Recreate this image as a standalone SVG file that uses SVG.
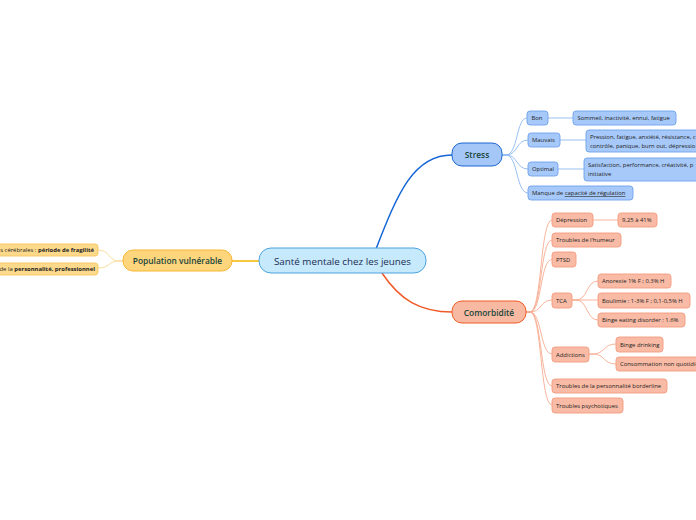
<svg xmlns="http://www.w3.org/2000/svg" width="696" height="520" viewBox="0 0 696 520">
<style>
text{font-family:"Open Sans","Noto Sans","Liberation Sans",sans-serif}
.leaf{font-size:5.9px;fill:#222}
.sb{fill:#a7c9f9;stroke:#6fa2ea;stroke-width:0.9}
.cb{fill:#f9bba5;stroke:#f39c80;stroke-width:0.9}
.yb{fill:#fdd98b;stroke:#f7c45c;stroke-width:0.9}
.sc{fill:none;stroke:#8cb8f2;stroke-width:0.9}
.cc{fill:none;stroke:#f7ab91;stroke-width:0.9}
.yc{fill:none;stroke:#fbd98e;stroke-width:0.9}
.main{font-size:8.4px;fill:#17453a;text-anchor:middle;font-weight:600}
</style>
<rect width="696" height="520" fill="#ffffff"/>
<g id="connectors">
<path d="M376,249 C398,192 414,155 452,155" fill="none" stroke="#1565d6" stroke-width="1.5"/>
<path d="M382,273 C400,300 420,312 452,312" fill="none" stroke="#f05a28" stroke-width="1.5"/>
<path d="M259,261 L232,261" fill="none" stroke="#f5b400" stroke-width="1.5"/>
<path class="yc" d="M123,261 L119,261 C108,261 110,250 98,250"/>
<path class="yc" d="M123,261 L119,261 C108,261 110,268 98,268"/>
<path class="sc" d="M502,155 L506,155 C518,155 516,118 527,118"/>
<path class="sc" d="M502,155 L506,155 C518,155 516,140 528,140"/>
<path class="sc" d="M502,155 L506,155 C518,155 516,169 528,169"/>
<path class="sc" d="M502,155 L506,155 C518,155 516,193 528,193"/>
<path class="sc" d="M548,118 L573,118"/>
<path class="sc" d="M560,140 L586,140"/>
<path class="sc" d="M558,169 L584,169"/>
<path class="cc" d="M526,312 L530,312 C542,312 540,220 552,220"/>
<path class="cc" d="M526,312 L530,312 C542,312 540,240 552,240"/>
<path class="cc" d="M526,312 L530,312 C542,312 540,259.5 552,259.5"/>
<path class="cc" d="M526,312 L530,312 C542,312 540,300 552,300"/>
<path class="cc" d="M526,312 L530,312 C542,312 540,354 552,354"/>
<path class="cc" d="M526,312 L530,312 C542,312 540,386 552,386"/>
<path class="cc" d="M526,312 L530,312 C542,312 540,405 552,405"/>
<path class="cc" d="M593,220 L618,220"/>
<path class="cc" d="M572,300 L576,300 C588,300 586,281 598,281"/>
<path class="cc" d="M572,300 L598,300"/>
<path class="cc" d="M572,300 L576,300 C588,300 586,320 598,320"/>
<path class="cc" d="M589,354 L593,354 C605,354 603,344 616,344"/>
<path class="cc" d="M589,354 L593,354 C605,354 603,364 616,364"/>
</g>
<g id="central">
<rect x="259" y="248" width="167" height="25" rx="12" fill="#c6e9fb" stroke="#4aa3df" stroke-width="1"/>
<text x="342.5" y="264.5" font-size="9.8" fill="#1a2b55" text-anchor="middle">Santé mentale chez les jeunes</text>
</g>
<g id="stress">
<rect x="452" y="143" width="50" height="23" rx="10" fill="#a5c7f8" stroke="#1a66d0" stroke-width="1"/>
<text class="main" x="477" y="158">Stress</text>
</g>
<g id="comorbidite">
<rect x="452" y="301" width="74" height="22" rx="10" fill="#f8b9a2" stroke="#f05a24" stroke-width="1"/>
<text class="main" x="489" y="315.5">Comorbidité</text>
</g>
<g id="population">
<rect x="123" y="250" width="109" height="21" rx="10" fill="#fdd57d" stroke="#f7b733" stroke-width="1"/>
<text class="main" x="177.5" y="264">Population vulnérable</text>
</g>
<g id="pop-1">
<rect class="yb" x="-20" y="244" width="118" height="12" rx="3"/>
<text class="leaf" x="94" y="252" text-anchor="end">s cérébrales : <tspan font-weight="bold">période de fragilité</tspan></text>
</g>
<g id="pop-2">
<rect class="yb" x="-20" y="263" width="118" height="12" rx="3"/>
<text class="leaf" x="95" y="271" text-anchor="end">de la <tspan font-weight="bold">personnalité, professionnel</tspan></text>
</g>
<g id="bon"><rect class="sb" x="527" y="111" width="21" height="14" rx="3"/><text class="leaf" x="531.5" y="120">Bon</text></g>
<g id="bon-1"><rect class="sb" x="573" y="111" width="103" height="14" rx="3"/><text class="leaf" x="577.5" y="120">Sommeil, inactivité, ennui, fatigue</text></g>
<g id="mauvais"><rect class="sb" x="528" y="133" width="32" height="14" rx="3"/><text class="leaf" x="532" y="142">Mauvais</text></g>
<g id="mauvais-1"><rect class="sb" x="586" y="130" width="130" height="22" rx="3"/><text class="leaf" x="590" y="139">Pression, fatigue, anxiété, résistance, c</text><text class="leaf" x="590" y="148">contrôle, panique, burn out, dépressio</text></g>
<g id="optimal"><rect class="sb" x="528" y="162" width="30" height="14" rx="3"/><text class="leaf" x="532" y="171">Optimal</text></g>
<g id="optimal-1"><rect class="sb" x="584" y="158" width="130" height="23" rx="3"/><text class="leaf" x="588" y="166.5">Satisfaction, performance, créativité, p</text><text class="leaf" x="588" y="175.5">initiative</text></g>
<g id="manque"><rect class="sb" x="528" y="186" width="105" height="14" rx="3"/><text class="leaf" x="532" y="195">Manque de <tspan text-decoration="underline">capacité de régulation</tspan></text></g>
<g id="depression"><rect class="cb" x="552" y="213" width="41" height="14" rx="3"/><text class="leaf" x="556" y="222">Dépression</text></g>
<g id="depression-1"><rect class="cb" x="618" y="213" width="39" height="14" rx="3"/><text class="leaf" x="622" y="222">9,25 à 41%</text></g>
<g id="humeur"><rect class="cb" x="552" y="233" width="69" height="14" rx="3"/><text class="leaf" x="556" y="242">Troubles de l'humeur</text></g>
<g id="ptsd"><rect class="cb" x="552" y="252" width="24" height="15" rx="3"/><text class="leaf" x="556" y="261.5">PTSD</text></g>
<g id="tca"><rect class="cb" x="552" y="293" width="20" height="15" rx="3"/><text class="leaf" x="556" y="302.5">TCA</text></g>
<g id="anorexie"><rect class="cb" x="598" y="274" width="73" height="14" rx="3"/><text class="leaf" x="602" y="283">Anorexie 1% F ; 0.3% H</text></g>
<g id="boulimie"><rect class="cb" x="598" y="293" width="92" height="15" rx="3"/><text class="leaf" x="602" y="302.5">Boulimie : 1-3% F ; 0,1-0,5% H</text></g>
<g id="binge-eating"><rect class="cb" x="598" y="313" width="87" height="14" rx="3"/><text class="leaf" x="602" y="322">Binge eating disorder : 1.6%</text></g>
<g id="addictions"><rect class="cb" x="552" y="347" width="37" height="15" rx="3"/><text class="leaf" x="556" y="356.5">Addictions</text></g>
<g id="binge-drinking"><rect class="cb" x="616" y="337" width="47" height="15" rx="3"/><text class="leaf" x="620" y="346.5">Binge drinking</text></g>
<g id="consommation"><rect class="cb" x="616" y="357" width="100" height="14" rx="3"/><text class="leaf" x="620" y="366">Consommation non quotidie</text></g>
<g id="borderline"><rect class="cb" x="552" y="379" width="115" height="14" rx="3"/><text class="leaf" x="556" y="388">Troubles de la personnalité borderline</text></g>
<g id="psychotiques"><rect class="cb" x="552" y="398" width="71" height="15" rx="3"/><text class="leaf" x="556" y="407.5">Troubles psychotiques</text></g>
</svg>
